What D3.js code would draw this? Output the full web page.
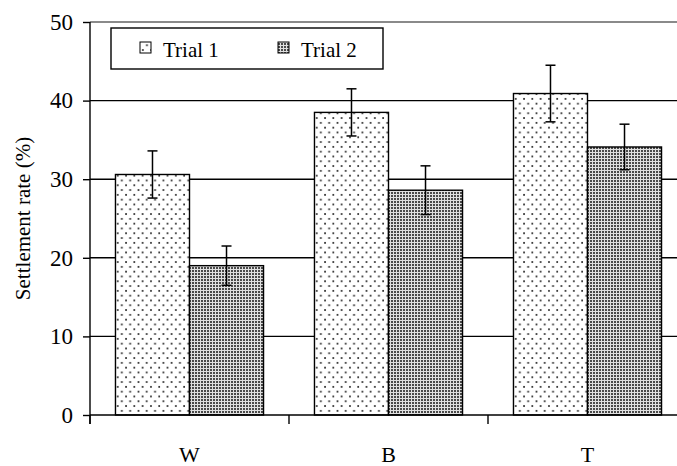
<!DOCTYPE html>
<html>
<head>
<meta charset="utf-8">
<script src="https://cdn.jsdelivr.net/npm/d3@7"></script>
<style>
  body { margin: 0; background: #fff; }
</style>
</head>
<body>
<div id="chart"></div>
<script>
const categories = ['W', 'B', 'T'];
const seriesNames = ['Trial 1', 'Trial 2'];
const trial1 = [30.6, 38.5, 40.9];
const trial1Err = [3.0, 3.0, 3.6];
const trial2 = [19.0, 28.6, 34.1];
const trial2Err = [2.5, 3.1, 2.9];
const yTicks = [0, 10, 20, 30, 40, 50];

const width = 677, height = 466;
const font = "'Liberation Serif'";
const svg = d3.select('#chart').append('svg')
    .attr('width', width).attr('height', height)
    .style('font-family', font);

const defs = svg.append('defs');

// dotted fill for trial 1 (staggered rows)
const dots = defs.append('pattern')
    .attr('id', 'dots').attr('patternUnits', 'userSpaceOnUse')
    .attr('width', 8.3).attr('height', 9.6);
dots.append('rect').attr('width', 8.3).attr('height', 9.6).attr('fill', '#fff');
dots.append('rect').attr('x', 2).attr('y', 2).attr('width', 1.7).attr('height', 1.7).attr('fill', '#222');
dots.append('rect').attr('x', 6.1).attr('y', 6.8).attr('width', 1.7).attr('height', 1.7).attr('fill', '#222');

// dense grey fill for trial 2
const grid = defs.append('pattern')
    .attr('id', 'grid').attr('patternUnits', 'userSpaceOnUse')
    .attr('width', 3).attr('height', 3);
grid.append('rect').attr('width', 3).attr('height', 3).attr('fill', '#e0e0e0');
grid.append('rect').attr('width', 2).attr('height', 2).attr('fill', '#4a4a4a');

const fills = ['url(#dots)', 'url(#grid)'];
const values = [trial1, trial2];
const errs = [trial1Err, trial2Err];

const x0 = d3.scaleBand().domain(categories).range([90, 687]);
const barW = x0.bandwidth() * 0.372;
const x1 = d3.scaleBand().domain(seriesNames)
    .range([x0.bandwidth() / 2 - barW, x0.bandwidth() / 2 + barW]);
const y = d3.scaleLinear().domain([0, 50]).range([415, 22]);

const rightEdge = 677;

// gridlines
svg.append('g').selectAll('line').data(yTicks.filter(d => d > 0)).join('line')
    .attr('x1', 90).attr('x2', rightEdge)
    .attr('y1', d => y(d)).attr('y2', d => y(d))
    .attr('stroke', d => d === 50 ? '#8a8a8a' : '#000')
    .attr('stroke-width', d => d === 50 ? 2 : 1.4);

// bars
const groups = svg.append('g').selectAll('g').data(categories).join('g')
    .attr('transform', d => `translate(${x0(d)},0)`);

seriesNames.forEach((s, si) => {
    groups.append('rect')
        .attr('x', x1(s))
        .attr('width', x1.bandwidth())
        .attr('y', (d, i) => y(values[si][i]))
        .attr('height', (d, i) => y(0) - y(values[si][i]))
        .attr('fill', fills[si])
        .attr('stroke', '#000').attr('stroke-width', 1.4);
});

// error bars
seriesNames.forEach((s, si) => {
    const cx = x1(s) + x1.bandwidth() / 2;
    const eb = groups.append('g').attr('stroke', '#000').attr('stroke-width', 1.5);
    eb.append('line')
        .attr('x1', cx).attr('x2', cx)
        .attr('y1', (d, i) => y(values[si][i] + errs[si][i]))
        .attr('y2', (d, i) => y(values[si][i] - errs[si][i]));
    [1, -1].forEach(sign => {
        eb.append('line')
            .attr('x1', cx - 5).attr('x2', cx + 5)
            .attr('y1', (d, i) => y(values[si][i] + sign * errs[si][i]))
            .attr('y2', (d, i) => y(values[si][i] + sign * errs[si][i]));
    });
});

// y axis
const yAxis = svg.append('g')
    .attr('transform', 'translate(90,0)')
    .call(d3.axisLeft(y).tickValues(yTicks).tickSize(7).tickPadding(10));
yAxis.attr('font-family', null);
yAxis.select('.domain').attr('stroke', '#000').attr('stroke-width', 1.4)
    .attr('d', `M0,${y(50)}V${y(0) + 9}`);
yAxis.selectAll('.tick line').attr('stroke', '#000').attr('stroke-width', 1.4);
yAxis.selectAll('.tick text').attr('font-size', 23).attr('fill', '#000')
    .style('font-family', font);

// x axis line and boundary ticks
svg.append('line')
    .attr('x1', 90).attr('x2', rightEdge)
    .attr('y1', y(0)).attr('y2', y(0))
    .attr('stroke', '#000').attr('stroke-width', 1.4);
svg.append('g').selectAll('line').data(categories).join('line')
    .attr('x1', d => x0(d)).attr('x2', d => x0(d))
    .attr('y1', y(0)).attr('y2', y(0) + 9)
    .attr('stroke', '#000').attr('stroke-width', 1.4);
svg.append('g').selectAll('text').data(categories).join('text')
    .attr('x', d => x0(d) + x0.bandwidth() / 2)
    .attr('y', 462)
    .attr('text-anchor', 'middle')
    .attr('font-size', 22)
    .text(d => d);

// y title
svg.append('text')
    .attr('transform', `translate(30,${(y(0) + y(50)) / 2}) rotate(-90)`)
    .attr('text-anchor', 'middle')
    .attr('font-size', 21)
    .text('Settlement rate (%)');

// legend
const legend = svg.append('g').attr('transform', 'translate(111,28)');
legend.append('rect')
    .attr('width', 272).attr('height', 41)
    .attr('fill', '#fff').attr('stroke', '#000').attr('stroke-width', 1.4);
const legX = d3.scalePoint().domain(seriesNames).range([29, 167]);
const item = legend.selectAll('g.item').data(seriesNames).join('g')
    .attr('transform', d => `translate(${legX(d)},0)`);
item.append('rect')
    .attr('y', 14).attr('width', 11).attr('height', 11)
    .attr('fill', (d, i) => fills[i])
    .attr('stroke', '#000').attr('stroke-width', 1);
item.append('text')
    .attr('x', 23).attr('y', 29)
    .attr('font-size', 21)
    .text(d => d);
</script>
</body>
</html>
